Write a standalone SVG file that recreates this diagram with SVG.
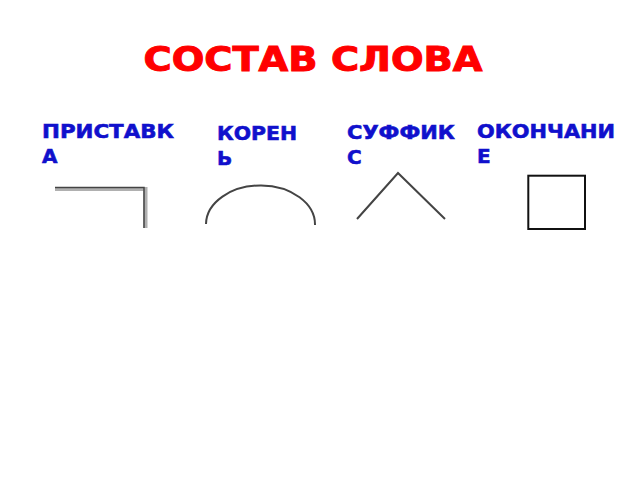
<svg xmlns="http://www.w3.org/2000/svg" width="640" height="480" viewBox="0 0 640 480">
<style>
.title{font-family:"DejaVu Sans","Liberation Sans",sans-serif;font-weight:bold;font-size:34px;fill:#ff0000;stroke:#ff0000;stroke-width:1}
.lbl{font-family:"DejaVu Sans","Liberation Sans",sans-serif;font-weight:bold;font-size:20px;fill:#1010cc;stroke:#1010cc;stroke-width:0.6}
.sh{fill:none;stroke:#444;stroke-width:2}
</style>
<rect width="640" height="480" fill="#ffffff"/>
<text class="title" x="143.5" y="71" textLength="339" lengthAdjust="spacingAndGlyphs">СОСТАВ СЛОВА</text>
<g id="prefix">
<text class="lbl" x="42" y="137.5" textLength="132" lengthAdjust="spacingAndGlyphs">ПРИСТАВК</text>
<text class="lbl" x="42" y="162.5">А</text>
<path d="M55,189 H145.5 V228" fill="none" stroke="#b0b0b0" stroke-width="4"/>
<path d="M55,187.5 H144 V228" fill="none" stroke="#444" stroke-width="1.5"/>
</g>
<g id="root">
<text class="lbl" x="217" y="139.5" textLength="80" lengthAdjust="spacingAndGlyphs">КОРЕН</text>
<text class="lbl" x="217" y="164.5">Ь</text>
<path class="sh" d="M206,224 A54.5,39 0 0 1 315,225"/>
</g>
<g id="suffix">
<text class="lbl" x="347" y="138.5" textLength="108" lengthAdjust="spacingAndGlyphs">СУФФИК</text>
<text class="lbl" x="347" y="163.5">С</text>
<path class="sh" d="M357,219 L398,173 L445,219" stroke="#555"/>
</g>
<g id="ending">
<text class="lbl" x="477" y="138" textLength="138" lengthAdjust="spacingAndGlyphs">ОКОНЧАНИ</text>
<text class="lbl" x="477" y="163">Е</text>
<rect x="528.3" y="175.7" width="56.7" height="53.3" fill="none" stroke="#111" stroke-width="2"/>
</g>
<g id="connectors"></g>
</svg>
